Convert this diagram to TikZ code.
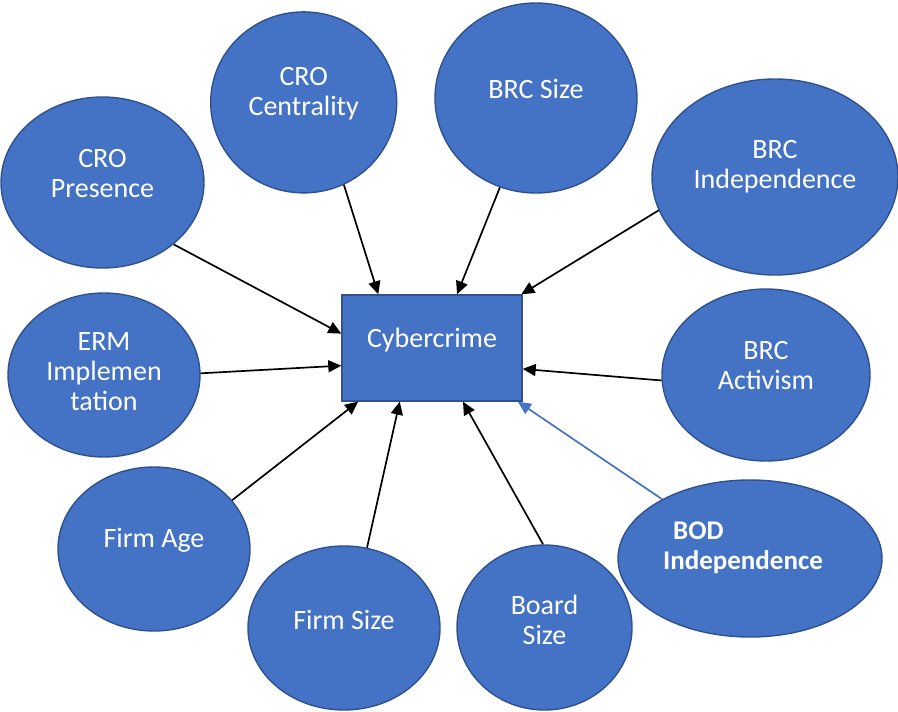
\documentclass[tikz,border=0pt]{standalone}
\usepackage{fontspec}
\setmainfont{Carlito}
\usetikzlibrary{arrows.meta,shapes.geometric}
\definecolor{bubBlue}{HTML}{4472C4}
\definecolor{bubEdge}{HTML}{2F528F}

\begin{document}
\begin{tikzpicture}[x=1pt,y=-1pt,
          bub/.style={ellipse, draw=bubEdge, line width=1.4pt, fill=bubBlue, inner sep=0pt},
          crime/.style={rectangle, draw=bubEdge, line width=1.4pt, fill=bubBlue, inner sep=0pt},
          txt/.style={text=white, font=\fontsize{28}{30}\selectfont, align=center},
          arr/.style={-{Triangle[length=13pt,width=12pt]}, line width=1.7pt, black}]
        \useasboundingbox (0,0) rectangle (898,712);
        % outer factors
        \node[bub, minimum width=203, minimum height=171,
              label={[txt,yshift=9pt]center:CRO\\Presence}] (pres) at (102.5,182.5) {};
        \node[bub, minimum width=186, minimum height=181,
              label={[txt,yshift=9pt]center:CRO\\Centrality}] (cent) at (303.7,102.4) {};
        \node[bub, minimum width=202, minimum height=190,
              label={[txt,yshift=9pt]center:BRC Size}] (bsize) at (536,98) {};
        \node[bub, minimum width=246, minimum height=196,
              label={[txt,yshift=10pt]center:BRC\\Independence}] (bind) at (775,177) {};
        \node[bub, minimum width=192, minimum height=164,
              label={[txt,yshift=3pt]center:ERM\\Implemen\\tation}] (erm) at (104,375) {};
        \node[bub, minimum width=208, minimum height=172,
              label={[txt,yshift=9pt]center:BRC\\Activism}] (act) at (766,375) {};
        \node[bub, minimum width=192, minimum height=164,
              label={[txt,yshift=9pt]center:Firm Age}] (age) at (154,549) {};
        \node[bub, minimum width=192, minimum height=164,
              label={[txt,yshift=8pt]center:Firm Size}] (fsize) at (344,628) {};
        \node[bub, minimum width=175, minimum height=165,
              label={[txt,yshift=8pt]center:Board\\Size}] (board) at (544.5,627.5) {};
        \node[bub, minimum width=264, minimum height=157,
              label={[txt,align=left,font=\fontsize{27}{30}\selectfont\bfseries,
                      xshift=-7pt,yshift=11pt]center:\hspace*{10pt}BOD\\Independence}] (bod) at (750,558.5) {};
        % dependent variable
        \node[crime, minimum width=180, minimum height=106,
              label={[txt,yshift=8pt]center:Cybercrime}] (cyber) at (432,348) {};
        % links
        \draw[arr] (pres.-41) -- (cyber.171);
        \draw[arr] (cent.-64) -- (cyber.135);
        \draw[arr] (bsize.248) -- (cyber.65);
        \draw[arr] (bind.196) -- (cyber.31);
        \draw[arr] (erm.1) -- (cyber.191);
        \draw[arr] (act.183) -- (cyber.347);
        \draw[arr] (age.32) -- (cyber.216);
        \draw[arr] (fsize.74) -- (cyber.239);
        \draw[arr] (board.91) -- (cyber.300);
        \draw[arr,bubBlue] (bod.146) -- (cyber.328);
      \end{tikzpicture}
\end{document}
